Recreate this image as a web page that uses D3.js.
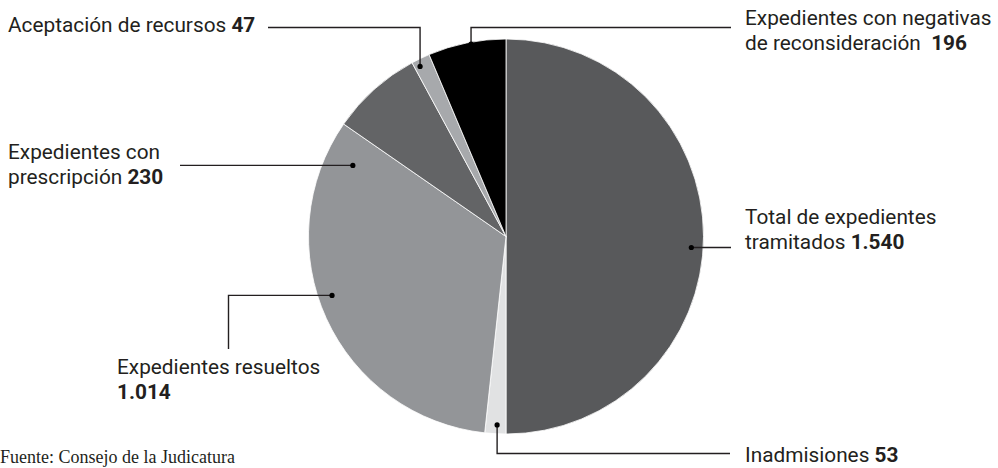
<!DOCTYPE html>
<html lang="es">
<head>
<meta charset="utf-8">
<script src="https://cdn.jsdelivr.net/npm/d3@7"></script>
<style>
  html, body { margin: 0; padding: 0; background: #fff; }
  svg { display: block; }
  .lbl { font-family: Roboto, "Noto Sans", sans-serif; font-size: 20.8px; fill: #231f20; white-space: pre; }
  .lbl .num { font-weight: 700; }
  .src { font-family: "Liberation Serif", "DejaVu Serif", serif; font-size: 18px; fill: #231f20; }
</style>
</head>
<body>
<script>
// Expedientes por tipo (orden de las porciones, en sentido horario desde las 12)
const categories = [
  "Total de expedientes tramitados",
  "Inadmisiones",
  "Expedientes resueltos",
  "Expedientes con prescripción",
  "Aceptación de recursos",
  "Expedientes con negativas de reconsideración"
];
const values = [1540, 53, 1014, 230, 47, 196];
const sliceColors = ["#58595b", "#e1e2e3", "#939598", "#636466", "#a7a9ac", "#000000"];
const sourceNote = "Fuente: Consejo de la Judicatura";

const W = 998, H = 468;
const cx = 506, cy = 236.5, R = 197.5;

const esLocale = d3.formatLocale({ decimal: ",", thousands: ".", grouping: [3], currency: ["$", ""] });
const fmt = esLocale.format(",d");

const svg = d3.select("body").append("svg")
  .attr("width", W).attr("height", H)
  .attr("viewBox", `0 0 ${W} ${H}`);

const pie = d3.pie().sort(null).value(d => d.value)
  .startAngle(0).endAngle(2 * Math.PI);
const arc = d3.arc().innerRadius(0).outerRadius(R);

const rows = categories.map((c, i) => ({ name: c, value: values[i], color: sliceColors[i] }));
const arcs = pie(rows);

const g = svg.append("g").attr("transform", `translate(${cx},${cy})`);
g.selectAll("path.slice").data(arcs).enter().append("path")
  .attr("class", "slice")
  .attr("d", arc)
  .attr("fill", d => d.data.color)
  .attr("stroke", "#ffffff")
  .attr("stroke-width", 0.8)
  .attr("stroke-linejoin", "round");

// Rótulos: punto de anclaje en coordenadas polares (grados desde las 12, fracción del radio),
// recorrido de la línea guía y posición del texto.
const labelLayout = [
  { idx: 0, ang: 93.4, rf: 0.94, path: [["h", 731]], text: { x: 745, y: 224, lines: ["Total de expedientes", ["tramitados ", 0]] } },
  { idx: 1, ang: 182.7, rf: 0.955, path: [["v", 453.5], ["h", 730]], text: { x: 745, y: 462, lines: [["Inadmisiones ", 1]] } },
  { idx: 2, ang: 251.3, rf: 0.93, path: [["h", 228.5], ["v", 349]], text: { x: 117, y: 374, lines: ["Expedientes resueltos", ["", 2]] } },
  { idx: 3, ang: 294.9, rf: 0.855, path: [["h", 180]], text: { x: 8, y: 159, lines: ["Expedientes con", ["prescripción ", 3]] } },
  { idx: 4, ang: 333.2, rf: 0.965, path: [["v", 27.5], ["h", 268]], text: { x: 8, y: 32, lines: [["Aceptación de recursos ", 4]] } },
  { idx: 5, ang: 349.7, rf: 0.99, path: [["v", 27.5], ["h", 731]], text: { x: 745, y: 25, lines: ["Expedientes con negativas", ["de reconsideración  ", 5]] } }
];
const lineGap = 24.5;

const guides = svg.append("g");
labelLayout.forEach(L => {
  const a = L.ang * Math.PI / 180;
  const x0 = cx + Math.sin(a) * R * L.rf;
  const y0 = cy - Math.cos(a) * R * L.rf;
  let d = `M${x0},${y0}`;
  L.path.forEach(([k, v]) => { d += (k === "h" ? "H" : "V") + v; });
  guides.append("path").attr("d", d)
    .attr("fill", "none").attr("stroke", "#231f20").attr("stroke-width", 1.4);
  guides.append("circle").attr("cx", x0).attr("cy", y0).attr("r", 2.6).attr("fill", "#000");

  const t = svg.append("text").attr("class", "lbl").attr("x", L.text.x).attr("y", L.text.y);
  L.text.lines.forEach((ln, i) => {
    const dy = i === 0 ? 0 : lineGap;
    if (typeof ln === "string") {
      t.append("tspan").attr("x", L.text.x).attr("dy", dy).text(ln);
    } else if (ln[0] === "") {
      t.append("tspan").attr("class", "num").attr("x", L.text.x).attr("dy", dy).text(fmt(values[ln[1]]));
    } else {
      t.append("tspan").attr("x", L.text.x).attr("dy", dy).text(ln[0]);
      t.append("tspan").attr("class", "num").text(fmt(values[ln[1]]));
    }
  });
});

svg.append("text").attr("class", "src").attr("x", 0).attr("y", 463).text(sourceNote);
</script>
</body>
</html>
